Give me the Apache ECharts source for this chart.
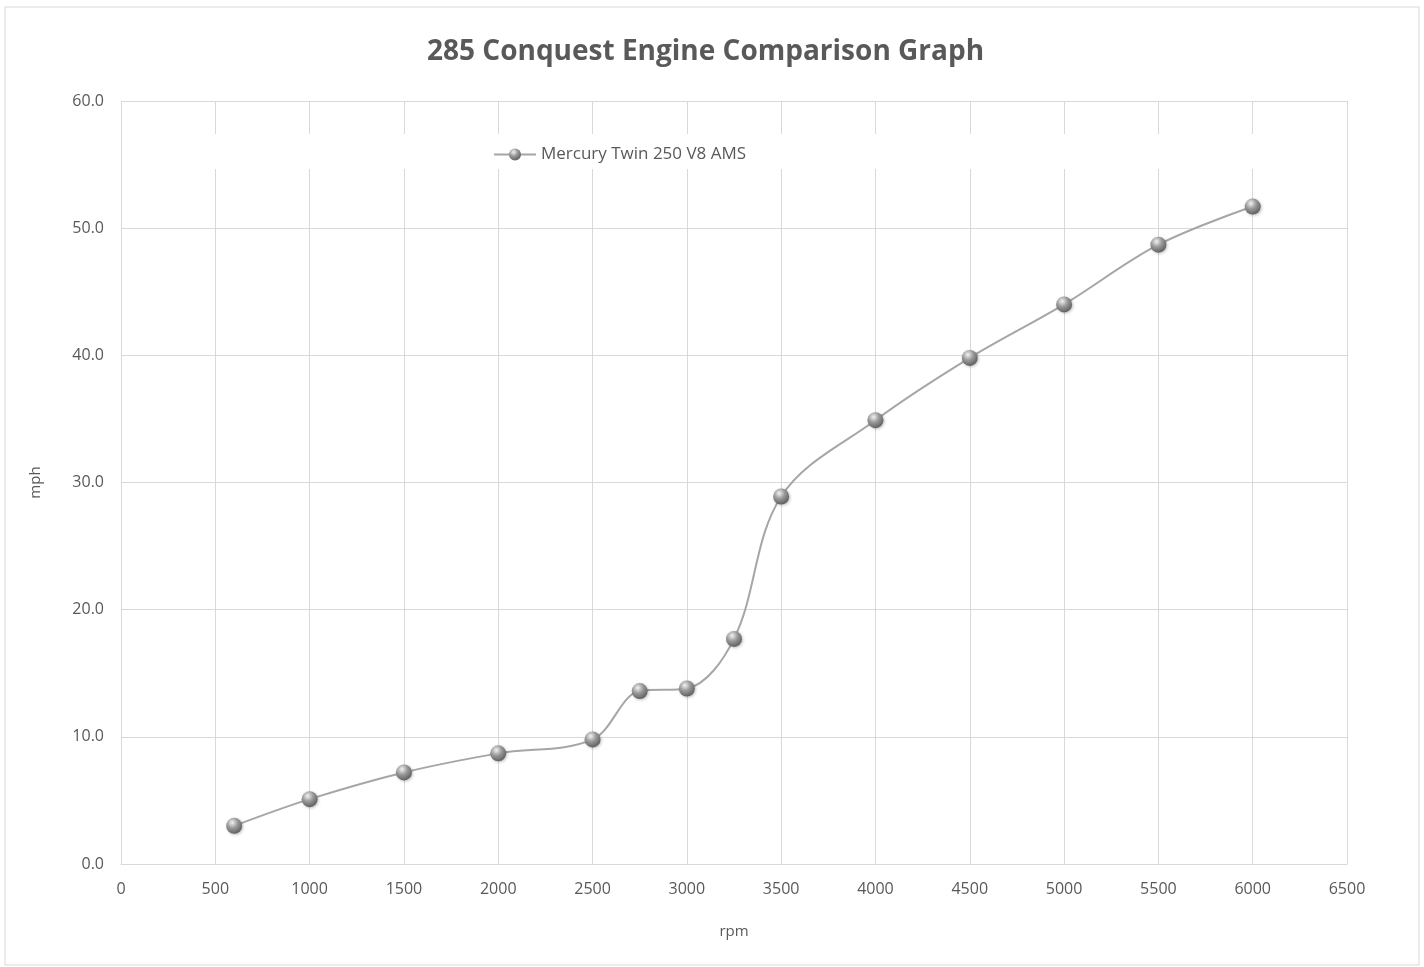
<!DOCTYPE html>
<html>
<head>
<meta charset="utf-8">
<script src="https://cdn.jsdelivr.net/npm/echarts@6/dist/echarts.min.js"></script>
<style>
  html, body { margin: 0; padding: 0; background: #fff; }
  #chart { width: 1424px; height: 967px; }
</style>
</head>
<body>
<div id="chart"></div>
<script>
// rpm vs mph readings
const rpm = [600, 1000, 1500, 2000, 2500, 2750, 3000, 3250, 3500, 4000, 4500, 5000, 5500, 6000];
const mph = [3.0, 5.1, 7.2, 8.7, 9.8, 13.6, 13.8, 17.7, 28.9, 34.9, 39.8, 44.0, 48.7, 51.7];
const seriesName = 'Mercury Twin 250 V8 AMS';

const textColor = '#595959';
const gridColor = '#d9d9d9';
const font = '"Open Sans", "Noto Sans", sans-serif';

const sphere = new echarts.graphic.RadialGradient(0.38, 0.3, 0.75, [
  { offset: 0, color: '#f2f2f2' },
  { offset: 0.45, color: '#9a9a9a' },
  { offset: 1, color: '#5a5a5a' }
]);

const chart = echarts.init(document.getElementById('chart'));

const option = {
  backgroundColor: '#fff',
  animation: false,
  title: {
    text: '285 Conquest Engine Comparison Graph',
    left: 422,
    top: 33,
    textStyle: { fontFamily: font, fontSize: 28, fontWeight: 'bold', color: textColor }
  },
  legend: {
    z: 20,
    top: 141,
    left: 488,
    itemWidth: 42,
    itemHeight: 15,
    itemGap: 5,
    textStyle: { fontFamily: font, fontSize: 17, color: textColor },
    data: [seriesName]
  },
  grid: { left: 121, right: 77, top: 101, bottom: 103 },
  graphic: [
    {
      type: 'rect',
      z: 1,
      shape: { x: 5, y: 7, width: 1414, height: 958 },
      style: { fill: 'none', stroke: '#d9d9d9', lineWidth: 1 }
    },
    {
      type: 'rect',
      z: 5,
      shape: { x: 122, y: 134, width: 1224, height: 35 },
      style: { fill: '#fff' }
    }
  ],
  xAxis: {
    type: 'value',
    min: 0,
    max: 6500,
    interval: 500,
    name: 'rpm',
    nameLocation: 'middle',
    nameGap: 60,
    nameTextStyle: { fontFamily: font, fontSize: 15, color: textColor },
    axisLine: { show: true, lineStyle: { color: gridColor } },
    axisTick: { show: false },
    axisLabel: { fontFamily: font, fontSize: 16, color: textColor, margin: 17, formatter: v => String(v) },
    splitLine: { show: true, lineStyle: { color: gridColor, width: 1 } }
  },
  yAxis: {
    type: 'value',
    min: 0,
    max: 60,
    interval: 10,
    name: 'mph',
    nameLocation: 'middle',
    nameGap: 78,
    nameRotate: 90,
    nameTextStyle: { fontFamily: font, fontSize: 15, color: textColor },
    axisLine: { show: false },
    axisTick: { show: false },
    axisLabel: {
      fontFamily: font, fontSize: 16, color: textColor, margin: 17,
      formatter: v => v.toFixed(1)
    },
    splitLine: { show: true, lineStyle: { color: gridColor, width: 1 } }
  },
  series: [
    {
      name: seriesName,
      type: 'line',
      z: 6,
      data: rpm.map((r, i) => [r, mph[i]]),
      smooth: 0.35,
      symbol: 'circle',
      symbolSize: 16,
      lineStyle: { color: '#a6a6a6', width: 2 },
      itemStyle: {
        color: sphere,
        borderWidth: 0,
        shadowColor: 'rgba(0,0,0,0.25)',
        shadowBlur: 3,
        shadowOffsetX: 1,
        shadowOffsetY: 1
      }
    }
  ]
};

chart.setOption(option);
</script>
</body>
</html>
